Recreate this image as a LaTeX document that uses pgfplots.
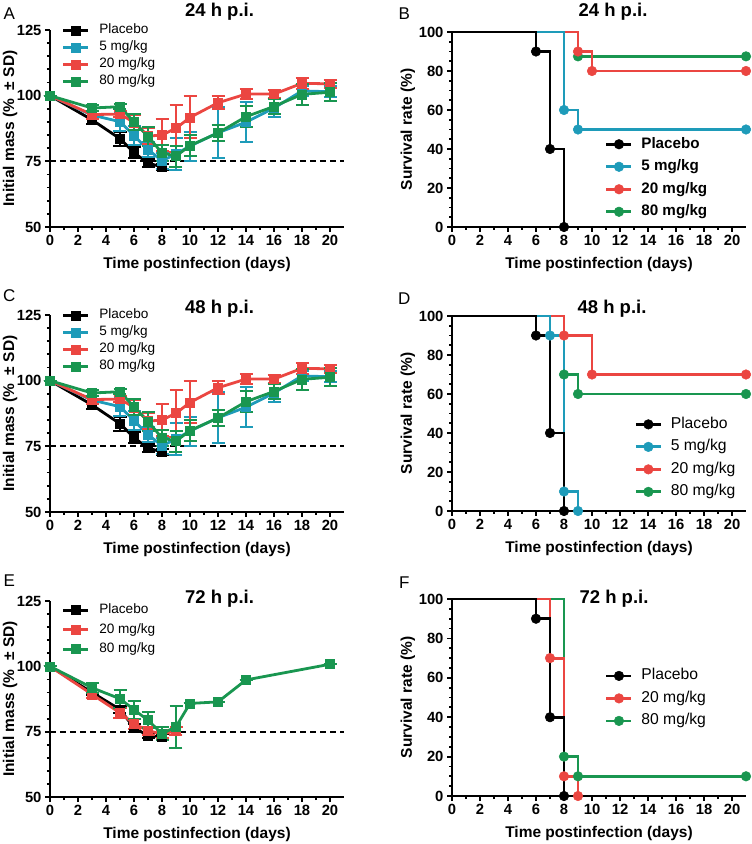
\documentclass[border=0pt]{standalone}
\usepackage{pgfplots}
\pgfplotsset{compat=1.18}
\usepackage{fontspec}
\setmainfont{Liberation Sans}
\definecolor{cteal}{RGB}{30,155,185}
\definecolor{cred}{RGB}{235,70,65}
\definecolor{cgreen}{RGB}{25,150,80}
\pgfplotsset{
 prism/.style={
   scale only axis, width=294pt,
   axis lines=left, axis line style={line width=2.6pt, -},
   xmin=0, xmax=21, xtick={0,2,...,20}, minor x tick num=1,
   tick align=outside, major tick length=5pt, minor tick length=3pt,
   every tick/.style={line width=1.8pt, black},
   tick label style={font=\bfseries\fontsize{14.8}{16}\selectfont},
   /pgf/number format/assume math mode=true,
   label style={font=\bfseries\fontsize{15.5}{18}\selectfont},
   xlabel={Time postinfection (days)},
   xlabel style={at={(axis description cs:0.5,0)}, yshift=-37pt, anchor=center},
   clip=false,
   legend cell align=left,
 },
 mass/.style={prism, ymin=50, ymax=125, ytick={50,75,100,125}, minor y tick num=4,
   ylabel={Initial mass (\%\ \ ± SD)},
   ylabel style={at={(axis description cs:-0.136,0.5)}, anchor=center},
   legend image code/.code={\draw[mark repeat=2,mark phase=2] plot coordinates {(0pt,0pt)(12.5pt,0pt)(25pt,0pt)};},
   legend style={draw=none, fill=none, font=\fontsize{13.6}{16}\selectfont, at={(axis description cs:0.04,1.035)}, anchor=north west, column sep=9pt, inner sep=0pt, nodes={inner sep=0.5pt, text height=10pt, text depth=3pt}, row sep=3pt},
 },
 surv/.style={prism, ymin=0, ymax=100, ytick={0,20,...,100}, minor y tick num=3,
   ylabel={Survival rate (\%)},
   ylabel style={at={(axis description cs:-0.15,0.5)}, anchor=center},
   legend image code/.code={\draw[mark indices={2}] plot coordinates {(0pt,0pt)(12.5pt,0pt)(25pt,0pt)};},
   legend style={draw=none, fill=none, column sep=8pt, inner sep=0pt, nodes={inner sep=0.5pt, text height=11pt, text depth=3.5pt}, row sep=7pt, anchor=north west},
   reverse legend,
 },
 ser/.style={color=#1, line width=2.8pt, mark=square*, mark size=4.5pt, mark options={solid, fill=#1, line width=0.5pt},
   error bars/.cd, y dir=both, y explicit, error bar style={line width=2pt, color=#1}, error mark options={rotate=90, line width=2pt, mark size=6.5pt, color=#1}},
 sv/.style={color=#1, const plot, line width=2.8pt, mark=*, mark size=4.8pt, mark options={solid, fill=#1, line width=0.5pt}},
 dash75/.style={black, line width=2pt, dash pattern=on 6pt off 4pt, forget plot},
}
\begin{document}
\begin{tikzpicture}[x=1pt,y=1pt]
\useasboundingbox (0,0) rectangle (752,844);

% ---------- A ----------
\begin{axis}[mass, at={(50pt,617pt)}, anchor=south west, height=197pt]
\addplot[dash75] coordinates {(0,75) (21,75)};
\addplot[ser=black] table[x index=0, y index=1, y error index=2] {
0 100 0
3 90.8 1.5
5 83.6 2.6
6 78.3 2.2
7 74.3 1.5
8 72.9 1.2
};
\addplot[ser=cteal] table[x index=0, y index=1, y error index=2] {
0 100 0
3 92.6 1.5
5 90.1 3.5
6 84.8 3.5
7 79.5 3
8 75.2 3
9 77.8 6
10 80.8 5.5
12 85.9 9.7
14 89.9 7.7
16 95.3 3.5
18 101.8 2
20 101.5 2
};
\addplot[ser=cred] table[x index=0, y index=1, y error index=2] {
0 100 0
3 92.8 1.5
5 93.0 1.2
6 89.8 3
7 84.6 3
8 85.0 6
9 87.6 9
10 91.7 8
12 97.3 2.5
14 100.6 2
16 100.6 1.5
18 104.7 2
20 104.5 1.5
};
\addplot[ser=cgreen] table[x index=0, y index=1, y error index=2] {
0 100 0
3 95.3 1.2
5 95.8 1
6 90.0 3
7 84.5 3.5
8 78.2 3
9 77.0 4
10 81.0 4
12 85.8 3
14 92.0 4
16 95.9 3
18 100.5 4
20 101.3 3.5
};
\legend{Placebo,5 mg/kg,20 mg/kg,80 mg/kg}
\end{axis}

% ---------- B ----------
\begin{axis}[surv, at={(452pt,617pt)}, anchor=south west, height=195pt,
  legend style={at={(axis description cs:0.52,0.465)}, font=\bfseries\fontsize{15.2}{18}\selectfont}]
\addplot[sv=cgreen, mark indices={2,3}] coordinates {(0,100)(9,87.5)(21,87.5)};
\addplot[sv=cred, mark indices={2,3,4}] coordinates {(0,100)(9,90)(10,80)(21,80)};
\addplot[sv=cteal, mark indices={2,3,4}] coordinates {(0,100)(8,60)(9,50)(21,50)};
\addplot[sv=black, mark indices={2,3,4}] coordinates {(0,100)(6,90)(7,40)(8,0)};
\legend{80 mg/kg,20 mg/kg,5 mg/kg,Placebo}
\end{axis}

% ---------- C ----------
\begin{axis}[mass, at={(50pt,332pt)}, anchor=south west, height=197pt]
\addplot[dash75] coordinates {(0,75) (21,75)};
\addplot[ser=black] table[x index=0, y index=1, y error index=2] {
0 100 0
3 90.8 1.5
5 83.6 2.6
6 78.3 2.2
7 74.3 1.5
8 72.9 1.2
};
\addplot[ser=cteal] table[x index=0, y index=1, y error index=2] {
0 100 0
3 92.6 1.5
5 90.1 3.5
6 84.8 3.5
7 79.5 3
8 75.2 3
9 77.8 6
10 80.8 5.5
12 85.9 9.7
14 89.9 7.7
16 95.3 3.5
18 101.8 2
20 101.5 2
};
\addplot[ser=cred] table[x index=0, y index=1, y error index=2] {
0 100 0
3 92.8 1.5
5 93.0 1.2
6 89.8 3
7 84.6 3
8 85.0 6
9 87.6 9
10 91.7 8
12 97.3 2.5
14 100.6 2
16 100.6 1.5
18 104.7 2
20 104.5 1.5
};
\addplot[ser=cgreen] table[x index=0, y index=1, y error index=2] {
0 100 0
3 95.3 1.2
5 95.8 1
6 90.0 3
7 84.5 3.5
8 78.2 3
9 77.0 4
10 81.0 4
12 85.8 3
14 92.0 4
16 95.9 3
18 100.5 4
20 101.3 3.5
};
\legend{Placebo,5 mg/kg,20 mg/kg,80 mg/kg}
\end{axis}

% ---------- D ----------
\begin{axis}[surv, at={(452pt,333pt)}, anchor=south west, height=195pt,
  legend style={at={(axis description cs:0.62,0.485)}, font=\fontsize{15.7}{18}\selectfont}]
\addplot[sv=cgreen, mark indices={2,3,4}] coordinates {(0,100)(8,70)(9,60)(21,60)};
\addplot[sv=cred, mark indices={2,3,4}] coordinates {(0,100)(8,90)(10,70)(21,70)};
\addplot[sv=cteal, mark indices={2,3,4}] coordinates {(0,100)(7,90)(8,10)(9,0)};
\addplot[sv=black, mark indices={2,3,4}] coordinates {(0,100)(6,90)(7,40)(8,0)};
\legend{80 mg/kg,20 mg/kg,5 mg/kg,Placebo}
\end{axis}

% ---------- E ----------
\begin{axis}[mass, at={(50pt,47pt)}, anchor=south west, height=196pt,
  legend style={row sep=5.5pt, at={(axis description cs:0.04,0.99)}}]
\addplot[dash75] coordinates {(0,75) (21,75)};
\addplot[ser=black] table[x index=0, y index=1, y error index=2] {
0 100 0
3 90.0 1
5 83.5 1.5
6 76.5 1.5
7 73.5 1
8 73.0 1
};
\addplot[ser=cred] table[x index=0, y index=1, y error index=2] {
0 100 0
3 89.3 1.5
5 82.2 2
6 78.0 2
7 75.4 1.5
8 74.1 1.5
9 75.3 1.5
};
\addplot[ser=cgreen] table[x index=0, y index=1, y error index=2] {
0 100 0
3 91.8 2
5 87.6 3.5
6 83.4 3.5
7 79.4 3
8 74.2 2.5
9 76.9 8
10 85.8 0
12 86.4 0
14 94.8 0
20 100.8 0
};
\legend{Placebo,20 mg/kg,80 mg/kg}
\end{axis}

% ---------- F ----------
\begin{axis}[surv, at={(452pt,48pt)}, anchor=south west, height=197pt,
  legend style={at={(axis description cs:0.52,0.65)}, font=\fontsize{15.7}{18}\selectfont}]
\addplot[sv=cgreen, mark indices={2,3,4}] coordinates {(0,100)(8,20)(9,10)(21,10)};
\addplot[sv=cred, mark indices={2,3,4}] coordinates {(0,100)(7,70)(8,10)(9,0)};
\addplot[sv=black, mark indices={2,3,4}] coordinates {(0,100)(6,90)(7,40)(8,0)};
\legend{80 mg/kg,20 mg/kg,Placebo}
\end{axis}

% titles and panel letters
\begin{scope}[every node/.style={font=\bfseries\fontsize{18.5}{22}\selectfont}]
\node at (219.5,832) {24 h p.i.};
\node at (613,832) {24 h p.i.};
\node at (219.5,535.7) {48 h p.i.};
\node at (612,535.7) {48 h p.i.};
\node at (219.5,245.7) {72 h p.i.};
\node at (614,245.7) {72 h p.i.};
\end{scope}
\begin{scope}[every node/.style={font=\fontsize{17}{20}\selectfont}]
\node at (9.3,830) {A};
\node at (404.3,830) {B};
\node at (9.3,548) {C};
\node at (404.3,545.5) {D};
\node at (9.3,263.5) {E};
\node at (404.3,261.5) {F};
\end{scope}
\end{tikzpicture}
\end{document}
